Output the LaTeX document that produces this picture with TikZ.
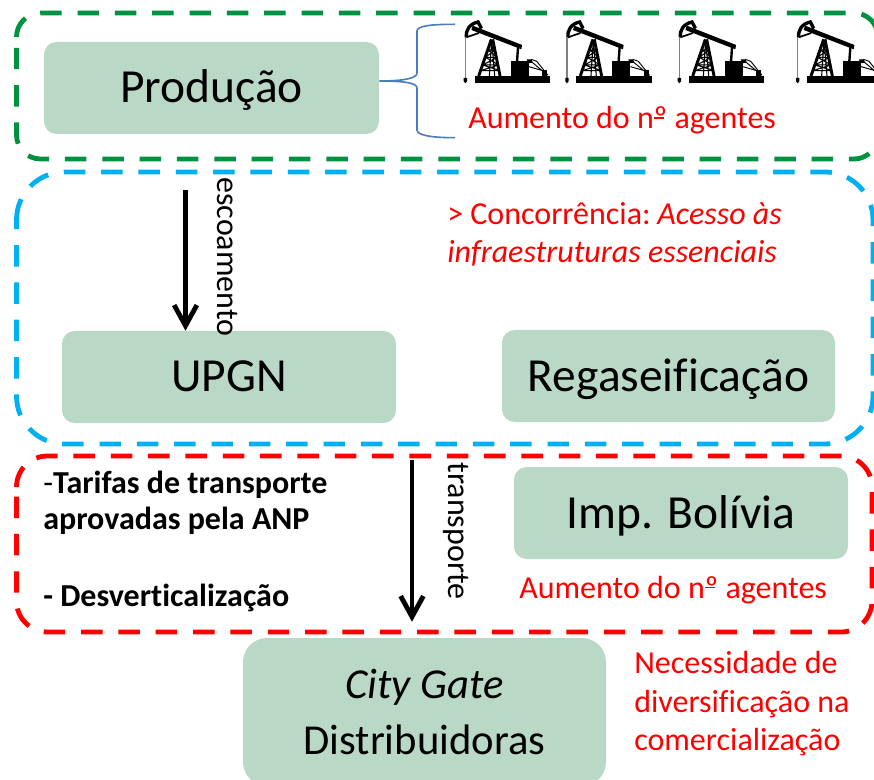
\documentclass[tikz,border=0pt]{standalone}
\usepackage{fontspec}
\setmainfont[Ligatures=NoCommon]{Carlito}
\usetikzlibrary{arrows.meta,positioning}
\definecolor{boxfill}{HTML}{B9D9C6}
\definecolor{gdash}{HTML}{00923F}
\definecolor{bdash}{HTML}{00B0F0}
\definecolor{rdash}{HTML}{FF0000}
\definecolor{brace}{HTML}{4A7EBB}
\newcommand{\myord}{\rlap{\rule[0.3em]{0.32em}{0.05em}}º}
\tikzset{
  greenbox/.style={fill=boxfill,draw=none,rounded corners=9.5pt,inner sep=0pt,align=center,text=black},
  bigtext/.style={font=\fontsize{35.6}{35.6}\selectfont,text height=28pt,text depth=5.5pt},
  zone/.style={line width=3.6pt,dash pattern=on 16.1pt off 11.9pt},
  flow/.style={line width=3.6pt,-{Straight Barb[length=15.5pt,width=17pt,line width=3.6pt]}},
  redtext/.style={text=rdash,anchor=base west,inner sep=0pt,font=\fontsize{24}{24}\selectfont},
  blacktext/.style={text=black,anchor=base west,inner sep=0pt,font=\fontsize{24}{24}\selectfont},
  pump/.pic={
    \begin{scope}[scale=1/3]
      \fill[black] (36,0) rectangle (262,-22);
      \fill[black] (144,-20) rectangle (198,-66);
      \fill[black] (238,-20) rectangle (254,-40);
      \fill[black] (192,-72) -- (206,-72) -- (210,-62) -- (196,-60) -- cycle;
      \draw[line width=0.7pt] (200,-70) -- (248,-30) (198,-50) -- (240,-38) (205,-72) -- (222,-66) -- (256,-24);
      \draw[line width=2.2pt] (86,-132) -- (48,-22) (90,-132) -- (112,-22);
      \draw[line width=0.8pt] (76,-100) -- (98,-100) (68,-78) -- (104,-78) (60,-55) -- (108,-55) (54,-38) -- (112,-38)
        (76,-100) -- (104,-78) (98,-100) -- (68,-78) (68,-78) -- (108,-55) (104,-78) -- (60,-55) (60,-55) -- (112,-38) (108,-55) -- (54,-38)
        (87,-130) -- (80,-22) (87,-130) -- (96,-22);
      \fill[black] (30,-173) -- (178,-115) -- (176,-102) -- (26,-160) -- cycle;
      \draw[line width=1.8pt] (166,-108) -- (163,-66);
      \draw[line width=2.5pt] (11,-138) .. controls (9,-160) and (20,-178) .. (46,-184) -- (56,-165);
      \draw[line width=1.3pt] (11,-138) -- (46,-150) -- (56,-165);
      \draw[gray,line width=0.9pt] (8,-138) -- (8,-15);
      \fill[black] (3,-16) -- (13,-16) -- (13,-6) -- (8,0) -- (3,-6) -- cycle;
    \end{scope}
  }
}
\begin{document}
\begin{tikzpicture}[x=0.75pt,y=-0.75pt]
\useasboundingbox (0,0) rectangle (874,780);
\clip (0,0) rectangle (874,780);

% zones
\draw[zone,gdash] (16.5,37) arc[start angle=180,end angle=90,radius=18pt] -- (854,13) arc[start angle=90,end angle=0,radius=18pt] -- (878,135) arc[start angle=0,end angle=-90,radius=18pt] -- (40.5,159) arc[start angle=-90,end angle=-180,radius=18pt] -- cycle;
\draw[zone,bdash] (16.5,220) arc[start angle=180,end angle=90,radius=36pt] -- (825,172) arc[start angle=90,end angle=0,radius=36pt] -- (873,396) arc[start angle=0,end angle=-90,radius=36pt] -- (64.5,444) arc[start angle=-90,end angle=-180,radius=36pt] -- cycle;
\draw[zone,rdash] (16.5,487) arc[start angle=180,end angle=90,radius=23.25pt] -- (841,456) arc[start angle=90,end angle=0,radius=23.25pt] -- (872,601) arc[start angle=0,end angle=-90,radius=23.25pt] -- (47.5,632) arc[start angle=-90,end angle=-180,radius=23.25pt] -- cycle;

% boxes
\node[greenbox,bigtext,minimum width=251.25pt,minimum height=69pt] (prod) at (211.5,88) {Produção};
\node[greenbox,bigtext,minimum width=250.5pt,minimum height=69pt] (upgn) at (229,377) {UPGN};
\node[greenbox,bigtext,minimum width=249.75pt,minimum height=69pt] (rega) at (668.5,376) {Regaseificação};
\node[greenbox,bigtext,minimum width=250.5pt,minimum height=69pt] (bol) at (681,513) {Imp. Bolívia};
\node[greenbox,rounded corners=18pt,minimum width=272.25pt,minimum height=111pt,font=\fontsize{32}{41.6}\selectfont] (city) at (424.5,712) {\textit{City Gate}\\Distribuidoras};

% brace
\coordinate (bt) at (455,24.3);
\coordinate (bb) at (455,137.7);
\draw[brace,line width=1.2pt] (bt) .. controls (430,24.3) and (417,26) .. (417,31) -- (417,73)
  .. controls (417,78) and (405,81) .. (prod.east |- 0,81) .. controls (405,81) and (417,83) .. (417,88)
  -- (417,130) .. controls (417,135) and (430,137.7) .. (bb);

% pump jacks
\pic at (462.7,83.3) {pump};
\pic at (564.3,83.3) {pump};
\pic at (676.7,83.3) {pump};
\pic at (795,83.3) {pump};

% arrows
\draw[flow,shorten <=42pt] (185.5,0 |- prod.south) -- (185.5,0 |- upgn.north);
\draw[flow,shorten >=12pt] (412,460) coordinate (t0) -- (t0 |- city.north);

% rotated labels
\node[rotate=-90,anchor=center,inner sep=0pt,font=\fontsize{24}{24}\selectfont] (esc) at (227.5,257) {escoamento};
\node[rotate=-90,anchor=center,inner sep=0pt,font=\fontsize{24}{24}\selectfont] (tra) at (456,531) {transporte};

% red text
\node[redtext] (a1) at (468,128.5) {Aumento do n\myord{} agentes};
\node[redtext] (c1) at (447,224.5) {> Concorrência:\hspace{-2.2pt} \textit{Acesso às}};
\node[redtext] (c2) at (447,262.5) {\textit{infraestruturas essenciais}};
\node[redtext] (a2) at (519,598) {Aumento do n\myord{} agentes};
\node[redtext] (n1) at (634,673) {Necessidade de};
\node[redtext] (n2) at (634,712) {diversificação na};
\node[redtext] (n3) at (634,750) {comercialização};

% black text
\node[blacktext] (t1) at (43,493) {-\textbf{Tarifas de transporte}};
\node[blacktext,font=\fontsize{24}{24}\selectfont\bfseries] (t2) at (43,529) {aprovadas pela ANP};
\node[blacktext,font=\fontsize{24}{24}\selectfont\bfseries] (t3) at (43,606.5) {- Desverticalização};
\end{tikzpicture}
\end{document}
